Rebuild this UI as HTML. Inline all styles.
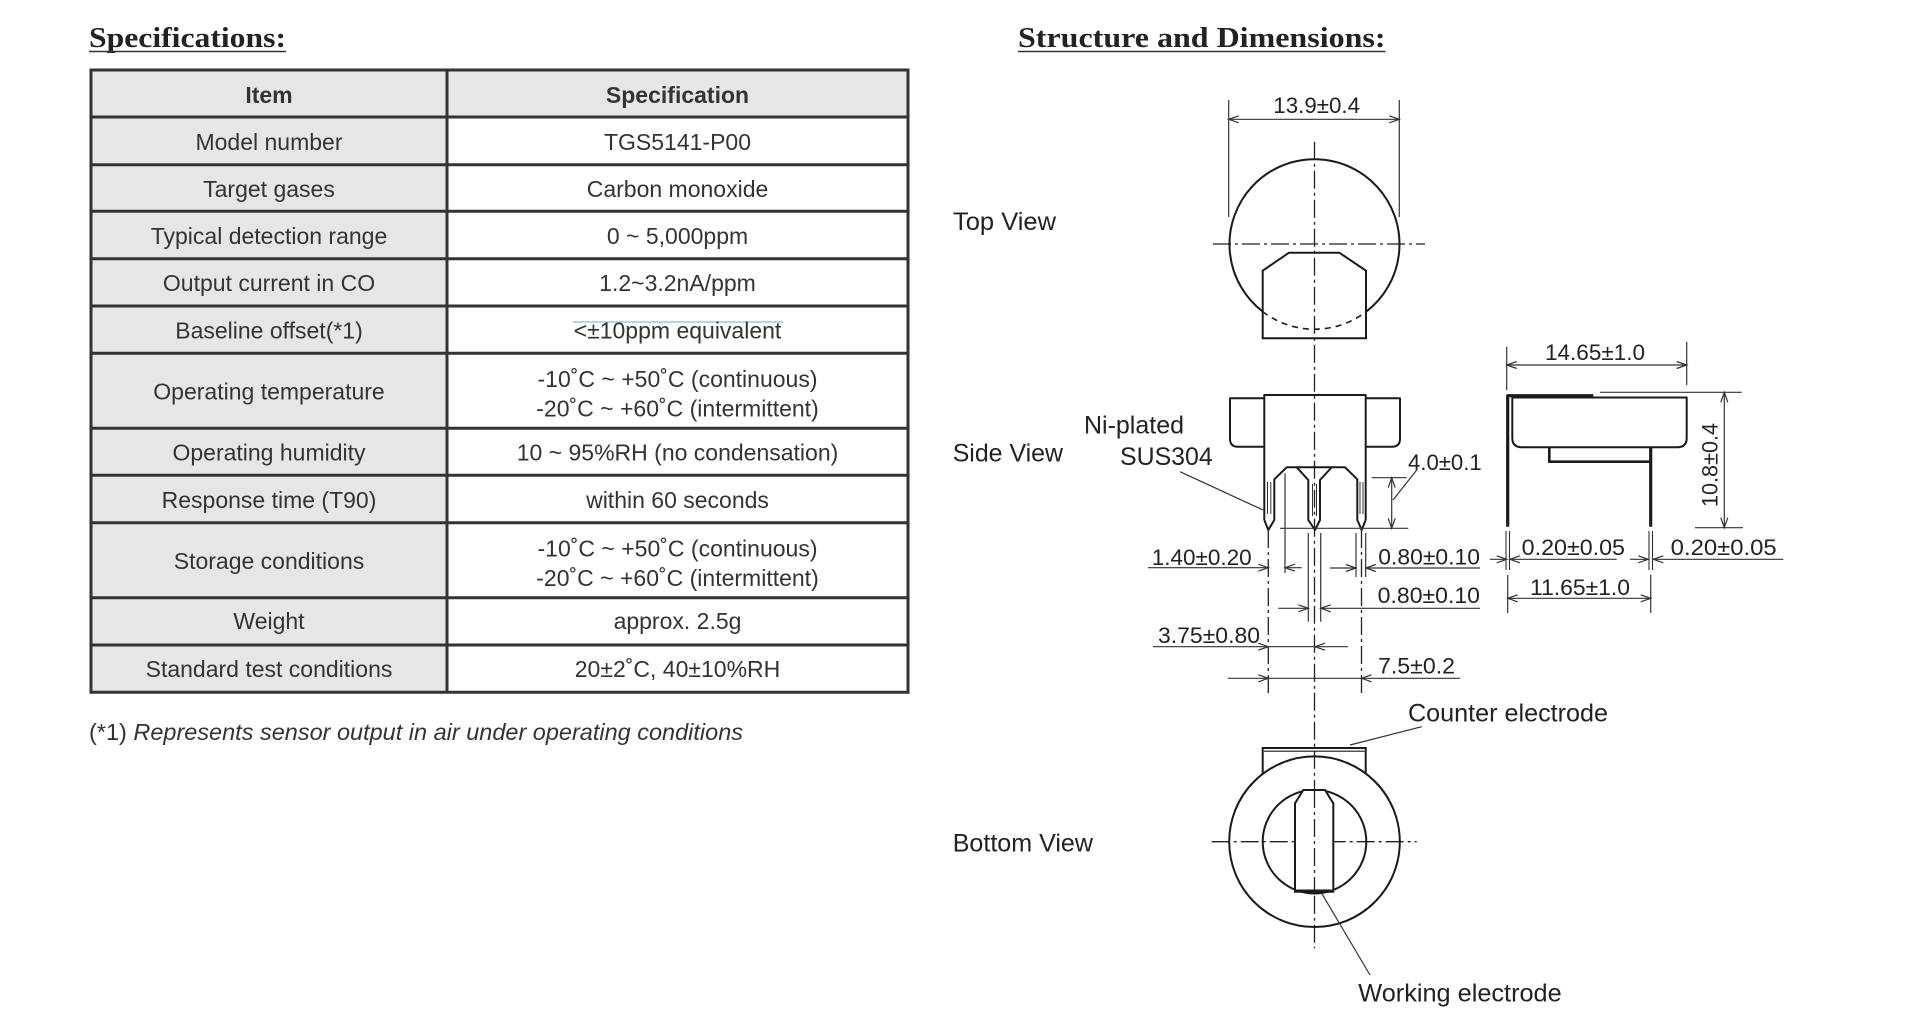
<!DOCTYPE html>
<html><head><meta charset="utf-8"><style>
html,body{margin:0;padding:0;background:#fff;}
svg{display:block;}
</style></head><body>
<svg width="1920" height="1033" viewBox="0 0 1920 1033" xmlns="http://www.w3.org/2000/svg">
<rect width="1920" height="1033" fill="#fff"/>

<!-- Titles -->
<g font-family="Liberation Serif, serif" font-weight="bold" font-size="28.5" fill="#222">
<text x="89" y="47" textLength="197" lengthAdjust="spacingAndGlyphs">Specifications:</text>
<text x="1018" y="47" textLength="367.5" lengthAdjust="spacingAndGlyphs">Structure and Dimensions:</text>
</g>
<g stroke="#333" stroke-width="1.6">
<line x1="89" y1="51.5" x2="286" y2="51.5"/>
<line x1="1018" y1="51.5" x2="1385.5" y2="51.5"/>
</g>

<!-- Table -->
<rect x="91" y="70" width="356" height="622" fill="#e6e6e6"/>
<rect x="447" y="70" width="461" height="47" fill="#e6e6e6"/>
<g stroke="#333" stroke-width="3" fill="none">
<line x1="89.5" y1="70" x2="909.5" y2="70"/>
<line x1="91" y1="117" x2="908" y2="117"/>
<line x1="91" y1="164.7" x2="908" y2="164.7"/>
<line x1="91" y1="211.3" x2="908" y2="211.3"/>
<line x1="91" y1="258.7" x2="908" y2="258.7"/>
<line x1="91" y1="306" x2="908" y2="306"/>
<line x1="91" y1="353.3" x2="908" y2="353.3"/>
<line x1="91" y1="428.3" x2="908" y2="428.3"/>
<line x1="91" y1="475.3" x2="908" y2="475.3"/>
<line x1="91" y1="522.7" x2="908" y2="522.7"/>
<line x1="91" y1="597.7" x2="908" y2="597.7"/>
<line x1="91" y1="645" x2="908" y2="645"/>
<line x1="89.5" y1="692.3" x2="909.5" y2="692.3"/>
<line x1="91" y1="70" x2="91" y2="692.3"/>
<line x1="447" y1="70" x2="447" y2="692.3"/>
<line x1="908" y1="70" x2="908" y2="692.3"/>
</g>
<line x1="573" y1="322" x2="783" y2="322" stroke="#9ab8d0" stroke-width="1.2"/>

<g font-family="Liberation Sans, Arial, sans-serif" font-size="23" fill="#333" text-anchor="middle">
<text x="269" y="103" font-weight="bold">Item</text>
<text x="677.5" y="103" font-weight="bold">Specification</text>
<text x="269" y="150">Model number</text>
<text x="677.5" y="150">TGS5141-P00</text>
<text x="269" y="197">Target gases</text>
<text x="677.5" y="197">Carbon monoxide</text>
<text x="269" y="244">Typical detection range</text>
<text x="677.5" y="244">0 ~ 5,000ppm</text>
<text x="269" y="291">Output current in CO</text>
<text x="677.5" y="291">1.2~3.2nA/ppm</text>
<text x="269" y="338.5">Baseline offset(*1)</text>
<text x="677.5" y="338.5">&lt;±10ppm equivalent</text>
<text x="269" y="399.5">Operating temperature</text>
<text x="677.5" y="387">-10˚C ~ +50˚C (continuous)</text>
<text x="677.5" y="416.5">-20˚C ~ +60˚C (intermittent)</text>
<text x="269" y="460.5">Operating humidity</text>
<text x="677.5" y="460.5">10 ~ 95%RH (no condensation)</text>
<text x="269" y="508">Response time (T90)</text>
<text x="677.5" y="508">within 60 seconds</text>
<text x="269" y="569">Storage conditions</text>
<text x="677.5" y="556.5">-10˚C ~ +50˚C (continuous)</text>
<text x="677.5" y="586">-20˚C ~ +60˚C (intermittent)</text>
<text x="269" y="629">Weight</text>
<text x="677.5" y="629">approx. 2.5g</text>
<text x="269" y="677">Standard test conditions</text>
<text x="677.5" y="677">20±2˚C, 40±10%RH</text>
</g>

<text x="89" y="740" font-family="Liberation Sans, Arial, sans-serif" font-size="23" fill="#333" textLength="654" lengthAdjust="spacingAndGlyphs">(*1) <tspan font-style="italic">Represents sensor output in air under operating conditions</tspan></text>

<!-- Diagram labels -->
<g font-family="Liberation Sans, Arial, sans-serif" font-size="25" fill="#222">
<text x="953" y="230" textLength="103" lengthAdjust="spacingAndGlyphs">Top View</text>
<text x="952.7" y="461.7" textLength="110.3" lengthAdjust="spacingAndGlyphs">Side View</text>
<text x="952.7" y="851.7" textLength="140.3" lengthAdjust="spacingAndGlyphs">Bottom View</text>
<text x="1084" y="433.3" textLength="100" lengthAdjust="spacingAndGlyphs">Ni-plated</text>
<text x="1120" y="465" textLength="92.7" lengthAdjust="spacingAndGlyphs">SUS304</text>
<text x="1408" y="721.7" textLength="200" lengthAdjust="spacingAndGlyphs">Counter electrode</text>
<text x="1358.3" y="1001.7" textLength="203.4" lengthAdjust="spacingAndGlyphs">Working electrode</text>
</g>

<!-- Dimension texts -->
<g font-family="Liberation Sans, Arial, sans-serif" font-size="22.5" fill="#222">
<text x="1273.3" y="113" textLength="86.7" lengthAdjust="spacingAndGlyphs">13.9±0.4</text>
<text x="1408" y="470" textLength="73.7" lengthAdjust="spacingAndGlyphs">4.0±0.1</text>
<text x="1151.7" y="565" textLength="100" lengthAdjust="spacingAndGlyphs">1.40±0.20</text>
<text x="1378.3" y="564.3" textLength="101.7" lengthAdjust="spacingAndGlyphs">0.80±0.10</text>
<text x="1377.7" y="603" textLength="102.3" lengthAdjust="spacingAndGlyphs">0.80±0.10</text>
<text x="1158" y="643" textLength="102" lengthAdjust="spacingAndGlyphs">3.75±0.80</text>
<text x="1378" y="673.5" textLength="77" lengthAdjust="spacingAndGlyphs">7.5±0.2</text>
<text x="1545" y="360" textLength="100" lengthAdjust="spacingAndGlyphs">14.65±1.0</text>
<text transform="translate(1717.5,507) rotate(-90)" x="0" y="0" textLength="84" lengthAdjust="spacingAndGlyphs">10.8±0.4</text>
<text x="1521.7" y="555" textLength="103.3" lengthAdjust="spacingAndGlyphs">0.20±0.05</text>
<text x="1670.7" y="555" textLength="106" lengthAdjust="spacingAndGlyphs">0.20±0.05</text>
<text x="1530" y="595" textLength="100" lengthAdjust="spacingAndGlyphs">11.65±1.0</text>
</g>

<!-- Centerlines -->
<g stroke="#222" stroke-width="1.3" fill="none" stroke-dasharray="18 4 3 4">
<line x1="1314.5" y1="141.7" x2="1314.5" y2="948.3"/>
<line x1="1213" y1="244" x2="1425" y2="244"/>
<line x1="1211.7" y1="841.7" x2="1416.7" y2="841.7"/>
<line x1="1268.3" y1="530" x2="1268.3" y2="695"/>
<line x1="1361.5" y1="530" x2="1361.5" y2="695"/>
</g>

<!-- Top view -->
<g stroke="#1a1a1a" stroke-width="2" fill="none">
<path d="M1262.7,311.6 A85,85 0 1 1 1366.3,311.6"/>
<path d="M1262.7,311.6 A85,85 0 0 0 1366.3,311.6" stroke-dasharray="6 5" stroke-width="1.6"/>
<path d="M1262.7,338.3 V270.7 L1289,252.7 H1339.3 L1366,270.7 V338.3 Z"/>
</g>
<g stroke="#333" stroke-width="1.2" fill="none">
<line x1="1228.7" y1="100" x2="1228.7" y2="217"/>
<line x1="1399.3" y1="100" x2="1399.3" y2="217"/>
<line x1="1228.7" y1="119.3" x2="1399.3" y2="119.3"/>
<path d="M1389.3,115.8 L1399.3,119.3 L1389.3,122.8"/>
<path d="M1238.7,115.8 L1228.7,119.3 L1238.7,122.8"/>
</g>

<!-- Side view -->
<g stroke="#1a1a1a" stroke-width="2" fill="none" stroke-linejoin="round">
<path d="M1264.3,520 V395 H1365.7 V520"/>
<path d="M1264.3,398.3 H1230 V438.7 Q1230,446.7 1238,446.7 H1264.3"/>
<path d="M1365.7,398.3 H1400 V438.7 Q1400,446.7 1392,446.7 H1365.7"/>
<path d="M1264.3,520 L1268.3,530 L1274.3,520 V479.3 L1286.7,467.3 H1345 L1357.3,479.3 V520 L1361.7,530 L1365.7,520"/>
<path d="M1296.7,467.3 L1308.3,480 V520 L1315,530 L1320,520 V480 L1331.7,467.3"/>
</g>
<g stroke="#333" stroke-width="1" fill="none">
<line x1="1267.5" y1="482" x2="1267.5" y2="514"/>
<line x1="1270.8" y1="482" x2="1270.8" y2="514"/>
<line x1="1360" y1="482" x2="1360" y2="514"/>
<line x1="1363" y1="482" x2="1363" y2="514"/>
<line x1="1312.5" y1="484" x2="1312.5" y2="516"/>
<line x1="1316.5" y1="484" x2="1316.5" y2="516"/>
</g>
<g stroke="#333" stroke-width="1.2" fill="none">
<line x1="1285" y1="473.3" x2="1285" y2="573"/>
<line x1="1280" y1="528.3" x2="1408.3" y2="528.3"/>
<line x1="1371.7" y1="477.7" x2="1406.7" y2="477.7"/>
<line x1="1308.3" y1="533" x2="1308.3" y2="621.7"/>
<line x1="1320.7" y1="533" x2="1320.7" y2="621.7"/>
<line x1="1356" y1="533" x2="1356" y2="577"/>
<line x1="1365.7" y1="533" x2="1365.7" y2="577"/>
<line x1="1391.7" y1="477.7" x2="1391.7" y2="528.3"/>
<path d="M1388.2,487.7 L1391.7,477.7 L1395.2,487.7"/>
<path d="M1388.2,518.3 L1391.7,528.3 L1395.2,518.3"/>
<line x1="1393" y1="500" x2="1416.7" y2="470"/>
<line x1="1180" y1="471.7" x2="1263" y2="510"/>
<line x1="1148" y1="567.7" x2="1268.3" y2="567.7"/>
<line x1="1285" y1="567.7" x2="1301.7" y2="567.7"/>
<path d="M1258.3,564.2 L1268.3,567.7 L1258.3,571.2"/>
<path d="M1295,564.2 L1285,567.7 L1295,571.2"/>
<line x1="1330" y1="568" x2="1356" y2="568"/>
<line x1="1365.7" y1="568" x2="1480" y2="568"/>
<path d="M1346,564.5 L1356,568 L1346,571.5"/>
<path d="M1375.7,564.5 L1365.7,568 L1375.7,571.5"/>
<line x1="1278.3" y1="608.3" x2="1308.3" y2="608.3"/>
<line x1="1320.7" y1="608.3" x2="1480" y2="608.3"/>
<path d="M1298.3,604.8 L1308.3,608.3 L1298.3,611.8"/>
<path d="M1330.7,604.8 L1320.7,608.3 L1330.7,611.8"/>
<line x1="1153" y1="646.7" x2="1348" y2="646.7"/>
<path d="M1258.3,643.2 L1268.3,646.7 L1258.3,650.2"/>
<path d="M1325,643.2 L1315,646.7 L1325,650.2"/>
<line x1="1228" y1="678.3" x2="1460" y2="678.3"/>
<path d="M1258.3,674.8 L1268.3,678.3 L1258.3,681.8"/>
<path d="M1371.5,674.8 L1361.5,678.3 L1371.5,681.8"/>
</g>

<!-- Right side view -->
<g stroke="#1a1a1a" fill="none" stroke-linejoin="round">
<path d="M1507.7,526.7 V395.7 H1593.3" stroke-width="3.2"/>
<path d="M1593,397.5 H1686.7 V438 Q1686.7,447.3 1677,447.3 H1522 Q1512.3,447.3 1512.3,438 V397.5 H1593" stroke-width="2"/>
<path d="M1549.3,447.3 V461.7 H1650.7" stroke-width="2.6"/>
<path d="M1650.7,447.3 V526.7" stroke-width="3.2"/>
</g>
<g stroke="#333" stroke-width="1.1" fill="none">
<line x1="1506" y1="531" x2="1506" y2="570"/>
<line x1="1509.5" y1="531" x2="1509.5" y2="570"/>
<line x1="1649" y1="531" x2="1649" y2="570"/>
<line x1="1652.5" y1="531" x2="1652.5" y2="570"/>
</g>
<g stroke="#333" stroke-width="1.2" fill="none">
<line x1="1600" y1="392.3" x2="1741.7" y2="392.3"/>
<line x1="1506.7" y1="346.7" x2="1506.7" y2="390"/>
<line x1="1686.7" y1="341.7" x2="1686.7" y2="385"/>
<line x1="1506.7" y1="365" x2="1686.7" y2="365"/>
<path d="M1516.7,361.5 L1506.7,365 L1516.7,368.5"/>
<path d="M1676.7,361.5 L1686.7,365 L1676.7,368.5"/>
<line x1="1724.3" y1="392.3" x2="1724.3" y2="527.7"/>
<path d="M1720.8,402.3 L1724.3,392.3 L1727.8,402.3"/>
<path d="M1720.8,517.7 L1724.3,527.7 L1727.8,517.7"/>
<line x1="1695" y1="527.7" x2="1743" y2="527.7"/>
<line x1="1490" y1="559.3" x2="1506.7" y2="559.3"/>
<line x1="1510" y1="559.3" x2="1616.7" y2="559.3"/>
<path d="M1496.7,555.8 L1506.7,559.3 L1496.7,562.8"/>
<path d="M1520,555.8 L1510,559.3 L1520,562.8"/>
<line x1="1630" y1="559.3" x2="1648.3" y2="559.3"/>
<line x1="1653.3" y1="559.3" x2="1783.3" y2="559.3"/>
<path d="M1638.3,555.8 L1648.3,559.3 L1638.3,562.8"/>
<path d="M1663.3,555.8 L1653.3,559.3 L1663.3,562.8"/>
<line x1="1507.7" y1="575" x2="1507.7" y2="613"/>
<line x1="1650.7" y1="575" x2="1650.7" y2="613"/>
<line x1="1507.7" y1="598.3" x2="1650.7" y2="598.3"/>
<path d="M1517.7,594.8 L1507.7,598.3 L1517.7,601.8"/>
<path d="M1640.7,594.8 L1650.7,598.3 L1640.7,601.8"/>
</g>

<!-- Bottom view -->
<g stroke="#1a1a1a" stroke-width="2" fill="none">
<circle cx="1314.5" cy="841.7" r="85.3"/>
<circle cx="1314.5" cy="841.7" r="51.8"/>
<path d="M1262.7,773.9 V748 H1365.7 V773.9"/>
<line x1="1264" y1="751.2" x2="1364.5" y2="751.2" stroke-width="1.2"/>
<path d="M1295,891.7 V803.3 L1303.3,790 H1325 L1333.3,803.3 V891.7 Z" fill="#fff"/>
<line x1="1295" y1="891" x2="1333.3" y2="891" stroke-width="3"/>
</g>
<line x1="1314.5" y1="790" x2="1314.5" y2="892" stroke="#222" stroke-width="1.3" stroke-dasharray="18 4 3 4"/>
<g stroke="#333" stroke-width="1.2" fill="none">
<line x1="1421.7" y1="726.7" x2="1350" y2="745"/>
<line x1="1321.7" y1="893.3" x2="1370" y2="975"/>
</g>
</svg>
</body></html>
